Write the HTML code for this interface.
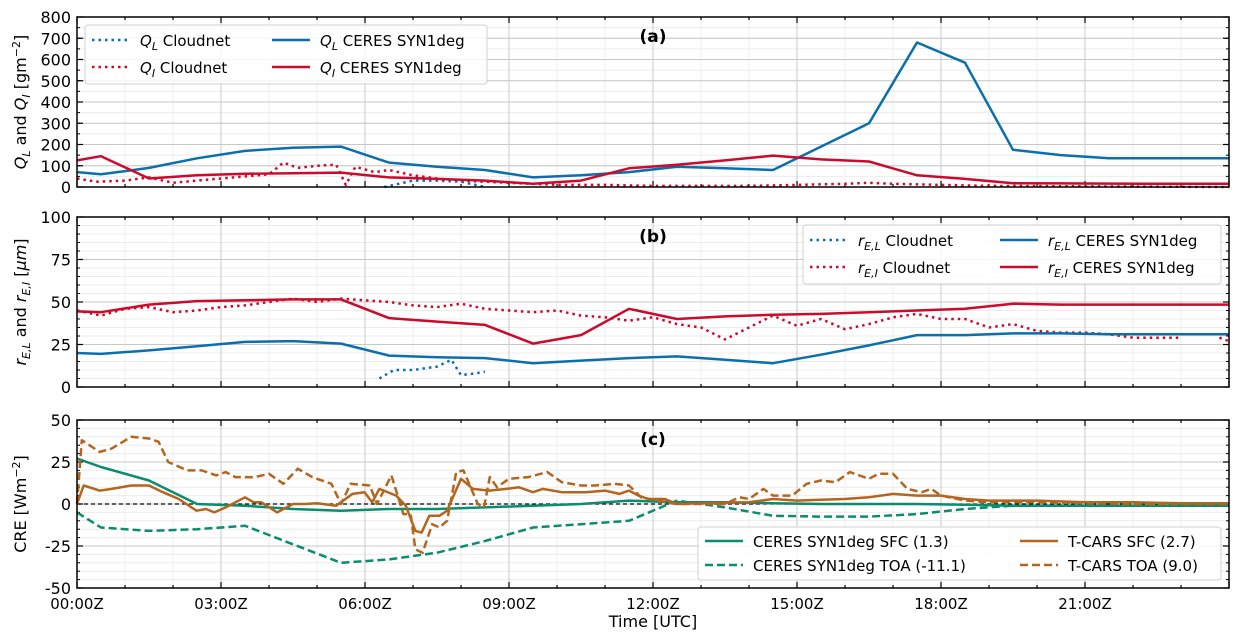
<!DOCTYPE html>
<html><head><meta charset="utf-8"><style>
body{margin:0;background:#fff}
svg{display:block;font-family:"DejaVu Sans","Liberation Sans",sans-serif}
</style></head><body>
<svg id="chart" width="1242" height="641" viewBox="0 0 1242 641" xmlns="http://www.w3.org/2000/svg"></svg>
<script>
// ---- data ----
const xTickLabels=["00:00Z","03:00Z","06:00Z","09:00Z","12:00Z","15:00Z","18:00Z","21:00Z"];
const ceresTime=[0,0.5,1.5,2.5,3.5,4.5,5.5,6.5,7.5,8.5,9.5,10.5,11.5,12.5,13.5,14.5,15.5,16.5,17.5,18.5,19.5,20.5,21.5,22.5,23.5,24];
const qlCeres=[70,60,90,135,170,185,190,115,95,80,45,55,70,95,88,80,190,300,680,585,175,150,135,135,135,135];
const qiCeres=[125,145,40,55,62,65,68,45,38,30,15,30,88,105,125,148,130,120,55,38,18,17,16,15,15,15];
const qiCloudT=[0,0.4,1,1.5,2,2.5,3,3.5,4,4.3,4.6,5,5.4,5.6,5.8,6.2,6.5,7,7.5,8,8.5,9,10,11,12,14,15,16,16.5,17,18,19,24];
const qiCloud=[40,25,30,45,20,30,40,50,60,115,90,100,105,10,95,70,80,55,40,30,25,20,10,10,5,5,10,15,20,15,10,5,0];
const qlCloudT=[6.4,7,7.5,8,8.5];
const qlCloud=[0,30,30,25,0];
const relCeres=[20,19.5,21.5,24,26.5,27,25.5,18.5,17.5,17,14,15.5,17,18,16,14,19,24.5,30.5,30.5,31.5,31.5,31,31,31,31];
const reiCeres=[44.5,44,48.5,50.5,51,51.5,51.5,40.5,38.5,36.5,25.5,30.5,46,40,41.5,42.5,43,44,45,46,49,48.5,48.5,48.5,48.5,48.5];
const reiCloudT=[0,0.5,1,1.5,2,2.5,3,3.5,4,4.5,5,5.5,6,6.5,7,7.5,8,8.5,9,9.5,10,10.5,11,11.5,12,12.5,13,13.5,14,14.5,15,15.5,16,16.5,17,17.5,18,18.5,19,19.5,20,20.5,21,21.5,22,23];
const reiCloud=[45,42,46,47,44,45,47,48,50,52,50,52,51,50,48,47,49,46,45,44,45,42,41,39,41,37,35,28,35,42,36,40,34,37,41,43,40,40,35,37,33,32,32,31,29,29];
const reiCloudT2=[23.8,24];
const reiCloud2=[29,27];
const relCloudT=[6.3,6.6,7,7.5,7.8,8,8.3,8.5];
const relCloud=[5,10,10,12,16,7,8,9];
const creSfcCeres=[27,22,14,0,-1,-3,-4,-3,-3,-2,-1,0,2,1,1,0.5,0,0,0,-0.5,-1,-1,-1,-1,-1,-1];
const creToaCeres=[-5,-14,-16,-15,-13,-24,-35,-33,-29,-22,-14,-12,-10,2,-2,-7,-7.5,-7.5,-6,-3,-1,-1,-1,-1,-1,-1];
const tcarsSfcT=[0,0.14,0.47,0.72,1.13,1.5,1.79,2.12,2.49,2.69,2.86,3.1,3.5,3.68,3.84,4.17,4.5,4.75,5,5.4,5.74,5.99,6.15,6.3,6.65,6.85,7.05,7.18,7.34,7.55,7.71,8,8.25,8.58,8.95,9.2,9.5,9.7,10.1,10.6,11,11.3,11.5,11.7,11.9,12.25,12.5,13,14,14.5,15,15.5,16,16.5,17,17.5,18,18.5,19,19.5,20,21,22,23,24];
const tcarsSfc=[0,11,8,9,11,11,7,3,-4,-3,-5,-2,4,1,1,-5,0,0,0.5,-1,6,7,1,9,5,-1,-16,-17,-7,-7,-4,15,9,8,9,10,7,9,7,7,8,6,8,5,3,3,0,0.5,1,3,2,2.5,3,4,6,5,5,3,2,2,2,1,1,0.5,0.5];
const tcarsToaT=[0,0.1,0.47,0.72,1.13,1.5,1.7,1.9,2.3,2.6,2.9,3.1,3.3,3.7,4,4.3,4.6,4.9,5.3,5.5,5.7,6.1,6.25,6.55,6.8,6.95,7.05,7.2,7.4,7.55,7.71,7.9,8.05,8.35,8.48,8.6,8.75,9,9.4,9.8,10.1,10.5,10.8,11.2,11.5,11.75,12.1,12.5,13,13.5,13.8,14,14.3,14.5,14.9,15.2,15.5,15.8,16.1,16.5,16.7,17,17.3,17.6,17.8,18,18.5,19,19.5,20,21,22,24];
const tcarsToa=[0,38,31,33,40,39,37,25,20,20,17,19,16,16,18,12,21,16,12,0,12,11,0,17,-6,-6,-27,-29,-12,-14,-10,19,20,0,-2,16,10,15,16,19,13,11,11,12,11,4,2,0,0,0,4,3,9,5,5,12,14,13,19,15,18,18,9,7,9,5,2,1,1,1,0.5,0,0];
const yTicksA=[0,100,200,300,400,500,600,700,800];
const yTicksB=[0,25,50,75,100];
const yTicksC=[-50,-25,0,25,50];

// ---- drawing ----
const svg=document.getElementById('chart');
const NS='http://www.w3.org/2000/svg';
const X0=77,X1=1229;
const xs=t=>X0+(X1-X0)*t/24;
function mk(tag,attrs,parent){const e=document.createElementNS(NS,tag);for(const k in attrs)e.setAttribute(k,attrs[k]);(parent||svg).appendChild(e);return e;}
const BLUE='#0b6fae',RED='#cc0a2c',GREEN='#0a8c6e',BROWN='#b4651e';
const panels=[
 {id:'a',top:17,bot:187,min:0,max:800,ticks:yTicksA,minor:50,label:'(a)'},
 {id:'b',top:217,bot:387,min:0,max:100,ticks:yTicksB,minor:5,label:'(b)'},
 {id:'c',top:420,bot:588,min:-50,max:50,ticks:yTicksC,minor:5,label:'(c)'}];
panels.forEach(p=>{p.ys=v=>p.bot-(p.bot-p.top)*(v-p.min)/(p.max-p.min);});
function line(p,T,V,color,dash,w,name){
  const g=mk('path',{d:T.map((t,i)=>(i?'L':'M')+xs(t).toFixed(1)+','+p.ys(V[i]).toFixed(1)).join(''),fill:'none',stroke:color,'stroke-width':w||2.5,'stroke-dasharray':dash||'none','stroke-linejoin':'round'});
  
  
}
panels.forEach(p=>{
  const g=mk('g',{});
  
  
  for(let h=1;h<24;h++){ if(h%3) mk('line',{x1:xs(h),x2:xs(h),y1:p.top,y2:p.bot,stroke:'#ececec','stroke-width':1},g);}
  for(let v=p.min+p.minor;v<p.max;v+=p.minor){ mk('line',{x1:X0,x2:X1,y1:p.ys(v),y2:p.ys(v),stroke:'#ececec','stroke-width':1},g);}
  for(let h=3;h<24;h+=3) mk('line',{x1:xs(h),x2:xs(h),y1:p.top,y2:p.bot,stroke:'#c8c8c8','stroke-width':1},g);
  p.ticks.forEach(v=>{
    mk('line',{x1:X0,x2:X1,y1:p.ys(v),y2:p.ys(v),stroke:'#c8c8c8','stroke-width':1},g);
    const t=mk('text',{x:X0-6,y:p.ys(v)+6,'text-anchor':'end','font-size':16},g);t.textContent=v;
    
    
    mk('line',{x1:X0,x2:X0+6,y1:p.ys(v),y2:p.ys(v),stroke:'#000','stroke-width':1.2},g);
    mk('line',{x1:X1,x2:X1-6,y1:p.ys(v),y2:p.ys(v),stroke:'#000','stroke-width':1.2},g);
  });
  for(let h=0;h<=24;h++){const L=h%3?3:6;
    mk('line',{x1:xs(h),x2:xs(h),y1:p.bot,y2:p.bot-L,stroke:'#000','stroke-width':1.2},g);
    mk('line',{x1:xs(h),x2:xs(h),y1:p.top,y2:p.top+L,stroke:'#000','stroke-width':1.2},g);}
  for(let v=p.min;v<=p.max;v+=p.minor){mk('line',{x1:X0,x2:X0+3,y1:p.ys(v),y2:p.ys(v),stroke:'#000'},g);mk('line',{x1:X1,x2:X1-3,y1:p.ys(v),y2:p.ys(v),stroke:'#000'},g);}
  const lab=mk('text',{x:653,y:p.top+25,'text-anchor':'middle','font-size':17,'font-weight':'bold'},g);lab.textContent=p.label;
  
  
});
const [A,B,C]=panels;
mk('line',{x1:X0,x2:X1,y1:C.ys(0),y2:C.ys(0),stroke:'#000','stroke-width':1.2,'stroke-dasharray':'4,3'});
line(A,qiCloudT,qiCloud,RED,'2.5,4',2.5,'qi-cloudnet-line');
line(A,qlCloudT,qlCloud,BLUE,'2.5,4',2.5,'ql-cloudnet-line');
line(A,ceresTime,qlCeres,BLUE,null,2.5,'ql-ceres-line');
line(A,ceresTime,qiCeres,RED,null,2.5,'qi-ceres-line');
line(B,reiCloudT,reiCloud,RED,'2.5,4',2.5,'rei-cloudnet-line');
line(B,reiCloudT2,reiCloud2,RED,'2.5,4',2.5,'rei-cloudnet-line-end');
line(B,relCloudT,relCloud,BLUE,'2.5,4',2.5,'rel-cloudnet-line');
line(B,ceresTime,relCeres,BLUE,null,2.5,'rel-ceres-line');
line(B,ceresTime,reiCeres,RED,null,2.5,'rei-ceres-line');
line(C,ceresTime,creSfcCeres,GREEN,null,2.5,'ceres-sfc-line');
line(C,ceresTime,creToaCeres,GREEN,'8,4',2.5,'ceres-toa-line');
line(C,tcarsSfcT,tcarsSfc,BROWN,null,2.5,'tcars-sfc-line');
line(C,tcarsToaT,tcarsToa,BROWN,'8,4',2.5,'tcars-toa-line');
panels.forEach(p=>mk('rect',{x:X0,y:p.top,width:X1-X0,height:p.bot-p.top,fill:'none',stroke:'#000','stroke-width':1.5}));
xTickLabels.forEach((s,i)=>{const t=mk('text',{x:xs(i*3),y:609,'text-anchor':'middle','font-size':15});t.textContent=s;
  
  });
const xt=mk('text',{x:653,y:627,'text-anchor':'middle','font-size':16});xt.textContent='Time [UTC]';


function ytitle(y,html,name){const t=mk('text',{transform:`translate(26,${y}) rotate(-90)`,'text-anchor':'middle','font-size':16});t.innerHTML=html;
  
  }
ytitle(102,'<tspan font-style="italic">Q</tspan><tspan font-size="11" dy="4" font-style="italic">L</tspan><tspan dy="-4"> and </tspan><tspan font-style="italic">Q</tspan><tspan font-size="11" dy="4" font-style="italic">I</tspan><tspan dy="-4"> [gm</tspan><tspan font-size="11" dy="-6">−2</tspan><tspan dy="6">]</tspan>','y-axis-title-a');
ytitle(302,'<tspan font-style="italic">r</tspan><tspan font-size="11" dy="4" font-style="italic">E,L</tspan><tspan dy="-4"> and </tspan><tspan font-style="italic">r</tspan><tspan font-size="11" dy="4" font-style="italic">E,I</tspan><tspan dy="-4"> [</tspan><tspan font-style="italic">μm</tspan><tspan>]</tspan>','y-axis-title-b');
ytitle(504,'CRE [Wm<tspan font-size="11" dy="-6">−2</tspan><tspan dy="6">]</tspan>','y-axis-title-c');
function legend(x,y,w,h,items,name){
  const g=mk('g',{});
  
  
  mk('rect',{x,y,width:w,height:h,rx:3,fill:'rgba(255,255,255,0.85)',stroke:'#d0d0d0'},g);
  items.forEach(it=>{
    const e=mk('g',{},g);
    
    
    mk('line',{x1:it.x,x2:it.x+38,y1:it.y,y2:it.y,stroke:it.c,'stroke-width':2.5,'stroke-dasharray':it.d||'none'},e);
    const t=mk('text',{x:it.x+48,y:it.y+6,'font-size':15},e);t.innerHTML=it.t;
  });
}
const sub=(a,b)=>`<tspan font-style="italic">${a}</tspan><tspan font-size="11" dy="4" font-style="italic">${b}</tspan><tspan dy="-4"> </tspan>`;
legend(85,25,402,59,[
 {x:92,y:40,c:BLUE,d:'2.5,4',t:sub('Q','L')+'Cloudnet'},
 {x:92,y:67,c:RED,d:'2.5,4',t:sub('Q','I')+'Cloudnet'},
 {x:272,y:40,c:BLUE,t:sub('Q','L')+'CERES SYN1deg'},
 {x:272,y:67,c:RED,t:sub('Q','I')+'CERES SYN1deg'}],'legend-a');
legend(803,225,418,59,[
 {x:810,y:240,c:BLUE,d:'2.5,4',t:sub('r','E,L')+'Cloudnet'},
 {x:810,y:267,c:RED,d:'2.5,4',t:sub('r','E,I')+'Cloudnet'},
 {x:1000,y:240,c:BLUE,t:sub('r','E,L')+'CERES SYN1deg'},
 {x:1000,y:267,c:RED,t:sub('r','E,I')+'CERES SYN1deg'}],'legend-b');
legend(698,527,523,53,[
 {x:705,y:541,c:GREEN,t:'CERES SYN1deg SFC (1.3)'},
 {x:705,y:565,c:GREEN,d:'8,4',t:'CERES SYN1deg TOA (-11.1)'},
 {x:1020,y:541,c:BROWN,t:'T-CARS SFC (2.7)'},
 {x:1020,y:565,c:BROWN,d:'8,4',t:'T-CARS TOA (9.0)'}],'legend-c');
</script>
</body></html>
